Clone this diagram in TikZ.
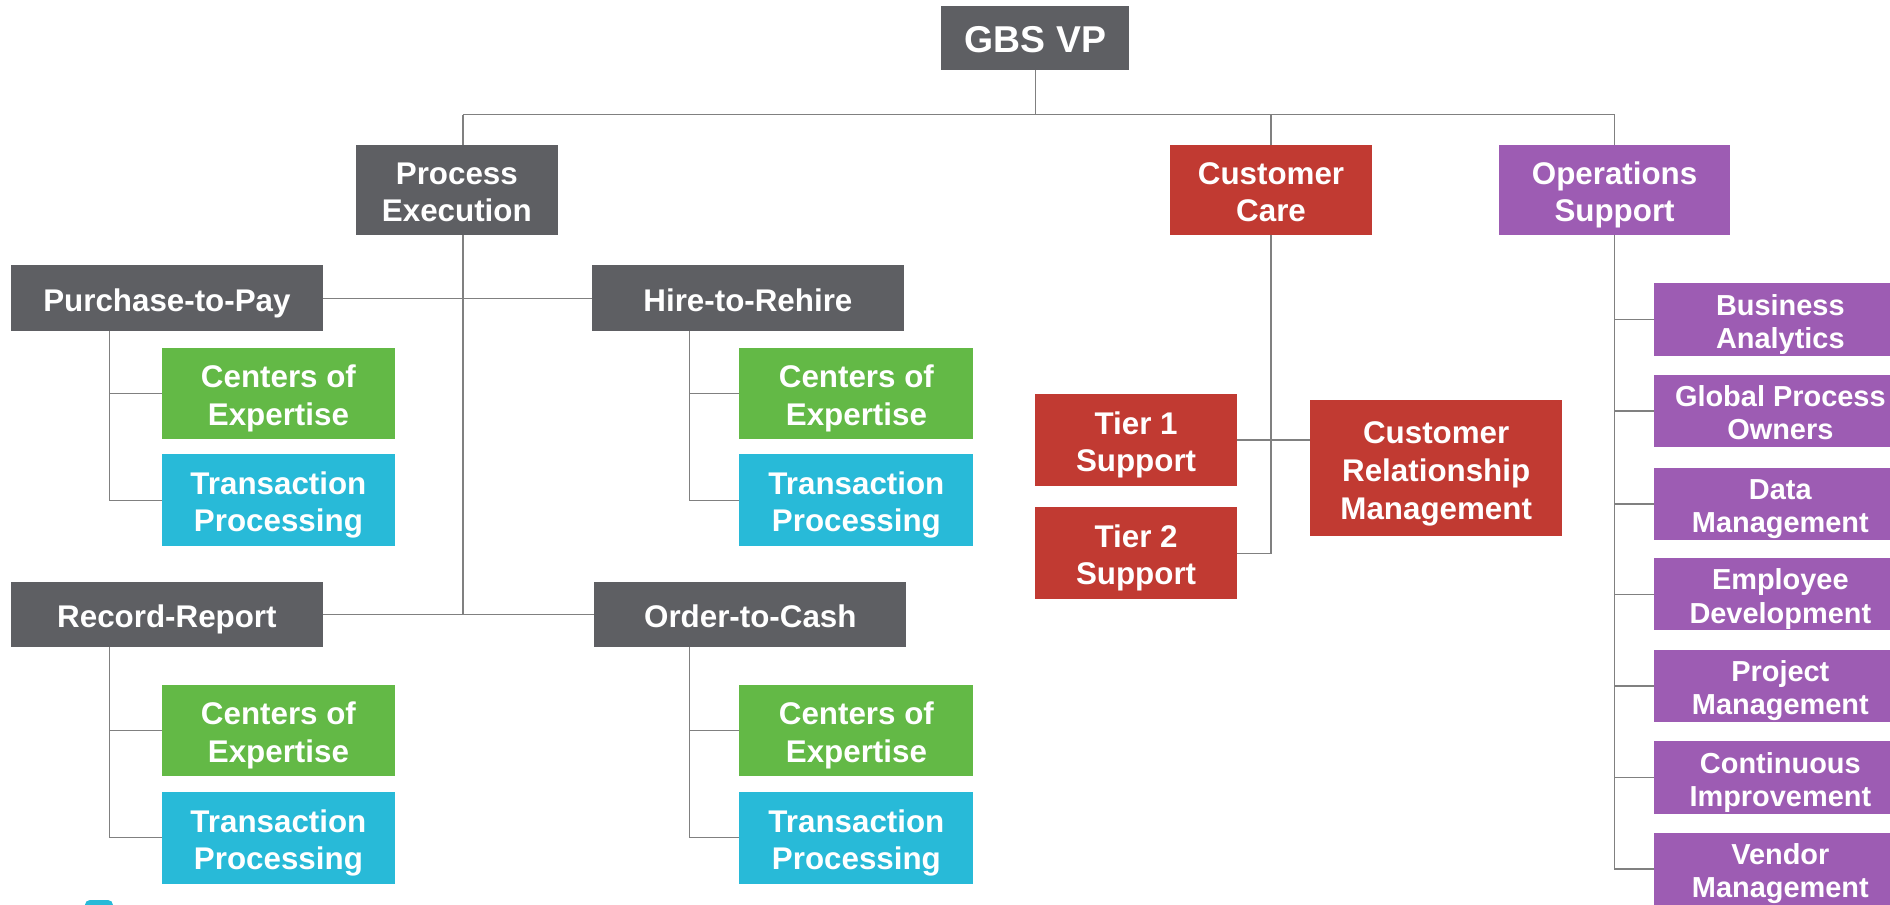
\documentclass[tikz,border=0pt]{standalone}
\usepackage{fontspec}
\setmainfont{Liberation Sans}
\usetikzlibrary{backgrounds,calc}

\definecolor{boxgray}{HTML}{5E5F63}
\definecolor{boxred}{HTML}{C13A32}
\definecolor{boxgreen}{HTML}{63B946}
\definecolor{boxcyan}{HTML}{28BAD8}
\definecolor{boxpurple}{HTML}{9D5CB3}
\definecolor{linkgray}{HTML}{808080}

% invisible struts that fix the vertical placement of the box labels
% (measured from the baseline of the last line of a label)
\newcommand\topstrut[1]{\rule{0pt}{#1}}
\newcommand\botstrut[1]{\rule[-#1]{0pt}{0pt}}
\tikzset{strut top/.store in=\strutTop, strut bot/.store in=\strutBot}

\begin{document}
\begin{tikzpicture}[x=1pt,y=-1pt,
  unit/.style={inner sep=0pt, outer sep=0pt, align=center, text=white,
    font=\bfseries\fontsize{26}{31}\selectfont,
    strut top=58.6pt, strut bot=6pt,
    execute at begin node=\topstrut{\strutTop},
    execute at end node=\botstrut{\strutBot}},
  graybox/.style={unit, fill=boxgray},
  redbox/.style={unit, fill=boxred},
  greenbox/.style={unit, fill=boxgreen, minimum width=194pt, minimum height=75pt},
  cyanbox/.style={unit, fill=boxcyan, minimum width=194pt, minimum height=76pt},
  purplebox/.style={unit, fill=boxpurple},
  opsbox/.style={purplebox, minimum width=210pt, minimum height=60pt,
    font=\bfseries\fontsize{24}{27.5}\selectfont,
    strut top=53.2pt, strut bot=5.5pt},
  procbox/.style={graybox, strut top=27.6pt, minimum width=259pt, minimum height=55pt},
  link/.style={draw=linkgray, line width=1.2pt}]

\clip (0,0) rectangle (1568,750);

% top level
\node[graybox, minimum width=156pt, minimum height=53pt,
  font=\bfseries\fontsize{31}{36}\selectfont,
  strut top=24pt, strut bot=0pt] (gbs) at (859,31.5) {GBS VP};

% divisions
\node[graybox, minimum width=168pt, minimum height=75pt] (pe) at (379,157.5) {Process\\Execution};
\node[redbox, minimum width=167pt, minimum height=75pt] (cc) at (1054.5,157.5) {Customer\\Care};
\node[purplebox, minimum width=191pt, minimum height=75pt] (os) at (1339.5,157.5) {Operations\\Support};

% process families
\node[procbox] (p2p) at (138.5,247.5) {Purchase-to-Pay};
\node[procbox] (h2r) at (620.5,247.5) {Hire-to-Rehire};
\node[procbox, minimum height=54pt] (rr) at (138.5,510) {Record-Report};
\node[procbox, minimum height=54pt] (o2c) at (622.5,510) {Order-to-Cash};

% teams under each process family
\node[greenbox] (coe1) at (231,326.5) {Centers of\\Expertise};
\node[cyanbox] (tp1) at (231,415) {Transaction\\Processing};
\node[greenbox] (coe2) at (710.5,326.5) {Centers of\\Expertise};
\node[cyanbox] (tp2) at (710.5,415) {Transaction\\Processing};
\node[greenbox, minimum height=76pt] (coe3) at (231,606) {Centers of\\Expertise};
\node[cyanbox] (tp3) at (231,695) {Transaction\\Processing};
\node[greenbox, minimum height=76pt] (coe4) at (710.5,606) {Centers of\\Expertise};
\node[cyanbox] (tp4) at (710.5,695) {Transaction\\Processing};

% customer care teams
\node[redbox, minimum width=167pt, minimum height=76pt] (tier1) at (942.5,365) {Tier 1\\Support};
\node[redbox, minimum width=167pt, minimum height=76pt] (tier2) at (942.5,459) {Tier 2\\Support};
\node[redbox, minimum width=209pt, minimum height=113pt,
  font=\bfseries\fontsize{26}{31.5}\selectfont,
  strut top=90.6pt] (crm) at (1191.5,388.5) {Customer\\Relationship\\Management};

% operations support teams
\node[opsbox] (ba) at (1477,265) {Business\\Analytics};
\node[opsbox] (gpo) at (1477,341) {Global Process\\Owners};
\node[opsbox] (dm) at (1477,418) {Data\\Management};
\node[opsbox] (ed) at (1477,493) {Employee\\Development};
\node[opsbox] (pm) at (1477,569) {Project\\Management};
\node[opsbox] (ci) at (1477,645) {Continuous\\Improvement};
\node[opsbox] (vm) at (1477,721) {Vendor\\Management};

% small tab at the lower edge
\fill[boxcyan, rounded corners=4pt] (70.5,746.7) rectangle (93.7,760);

\begin{scope}[on background layer]
  \fill[white] (0,0) rectangle (1568,750);

  % bus under the top node
  \coordinate (bus) at (859,95);
  \coordinate (peTop) at (384,95);
  \coordinate (peBot) at (384,510);
  \draw[link] (gbs.south) -- (bus);
  \draw[link] (peTop) -- (bus) -| (os.north);
  \draw[link] (cc.north) -- (cc.north |- bus);
  \draw[link] (peTop) -- (peBot);

  % process families
  \draw[link] (p2p.east) -- (h2r.west);
  \draw[link] (rr.east) -- (o2c.west);

  % teams
  \draw[link] ($(p2p.south west)+(82,0)$) |- (coe1.west);
  \draw[link] ($(p2p.south west)+(82,0)$) |- (tp1.west);
  \draw[link] ($(h2r.south west)+(81,0)$) |- (coe2.west);
  \draw[link] ($(h2r.south west)+(81,0)$) |- (tp2.west);
  \draw[link] ($(rr.south west)+(82,0)$) |- (coe3.west);
  \draw[link] ($(rr.south west)+(82,0)$) |- (tp3.west);
  \draw[link] ($(o2c.south west)+(79,0)$) |- (coe4.west);
  \draw[link] ($(o2c.south west)+(79,0)$) |- (tp4.west);

  % customer care
  \draw[link] (cc.south) |- (tier2.east);
  \draw[link] (tier1.east) -- (tier1.east -| crm.west);

  % operations support
  \draw[link] (os.south) |- (vm.west);
  \foreach \n in {ba,gpo,dm,ed,pm,ci}
    \draw[link] (os.south |- \n.west) -- (\n.west);
\end{scope}
\end{tikzpicture}
\end{document}
